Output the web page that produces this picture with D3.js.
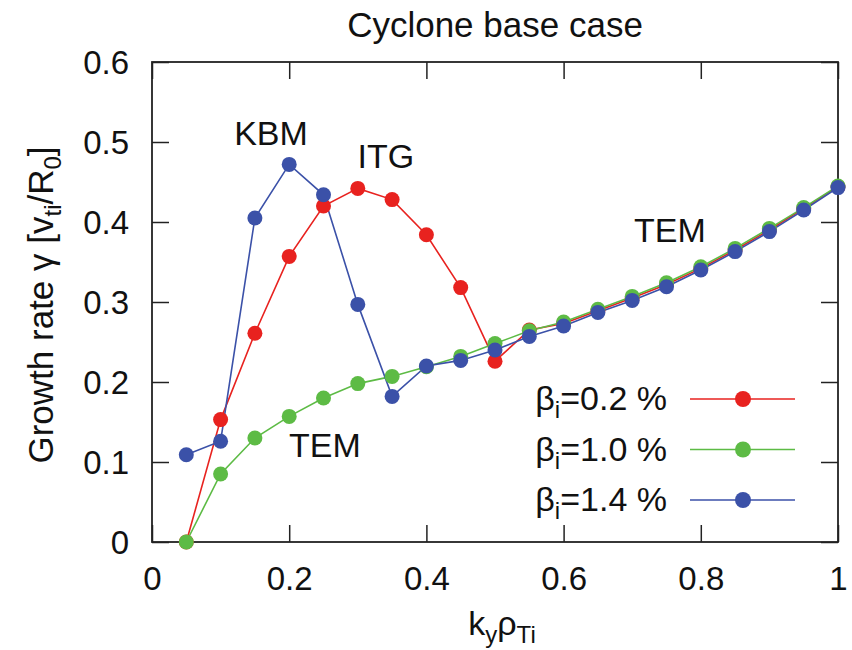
<!DOCTYPE html>
<html lang="en">
<head>
<meta charset="utf-8" />
<script src="https://d3js.org/d3.v7.min.js"></script>
<style>
  body { margin: 0; background: #fff; }
  svg text { font-family: "Liberation Sans", Arial, sans-serif; fill: #111; }
</style>
</head>
<body>
<div id="chart"></div>
<script>
// ky rho_Ti sample points
var kValues = [0.05, 0.1, 0.15, 0.2, 0.25, 0.3, 0.35, 0.4, 0.45, 0.5,
               0.55, 0.6, 0.65, 0.7, 0.75, 0.8, 0.85, 0.9, 0.95, 1.0];

// growth rates
var beta02 = [0.0, 0.153, 0.261, 0.357, 0.420, 0.442, 0.428, 0.384, 0.318, 0.226,
              0.265, 0.273, 0.289, 0.305, 0.322, 0.342, 0.365, 0.390, 0.417, 0.444];
var beta10 = [0.0, 0.085, 0.130, 0.157, 0.180, 0.198, 0.207, 0.219, 0.232, 0.248,
              0.264, 0.275, 0.291, 0.307, 0.324, 0.344, 0.367, 0.392, 0.418, 0.445];
var beta14 = [0.109, 0.126, 0.405, 0.472, 0.434, 0.297, 0.182, 0.220, 0.227, 0.240,
              0.257, 0.270, 0.287, 0.302, 0.319, 0.340, 0.363, 0.388, 0.415, 0.443];

var xTicks = [0, 0.2, 0.4, 0.6, 0.8, 1];
var yTicks = [0, 0.1, 0.2, 0.3, 0.4, 0.5, 0.6];

var series = [
  { label: "0.2 %", values: beta02, color: "#e8221f" },
  { label: "1.0 %", values: beta10, color: "#5dbb45" },
  { label: "1.4 %", values: beta14, color: "#3b51a8" }
];

var W = 852, H = 650;
var margin = { top: 62, right: 14, bottom: 108, left: 152 };
var width = W - margin.left - margin.right,
    height = H - margin.top - margin.bottom;

var svg = d3.select("#chart").append("svg")
  .attr("width", W).attr("height", H);
var g = svg.append("g")
  .attr("transform", "translate(" + margin.left + "," + margin.top + ")");

var x = d3.scaleLinear().domain([0, 1]).range([0, width]);
var y = d3.scaleLinear().domain([0, 0.6]).range([height, 0]);

// inward ticks on all four sides
var tickLen = 17;
function styleTicks(a) {
  a.select(".domain").remove();
  a.selectAll("line").attr("stroke", "#222").attr("stroke-width", 1.5);
}
g.append("g").attr("transform", "translate(0," + height + ")")
  .call(d3.axisBottom(x).tickValues(xTicks).tickSizeInner(-tickLen).tickSizeOuter(0)
    .tickFormat(d3.format("")))
  .call(function (a) {
    styleTicks(a);
    a.selectAll("text").attr("dy", "0").attr("y", 48).style("font-size", "33px");
  });
g.append("g")
  .call(d3.axisTop(x).tickValues(xTicks).tickSizeInner(-tickLen).tickSizeOuter(0))
  .call(function (a) { styleTicks(a); a.selectAll("text").remove(); });
g.append("g")
  .call(d3.axisLeft(y).tickValues(yTicks).tickSizeInner(-tickLen).tickSizeOuter(0)
    .tickFormat(d3.format("")))
  .call(function (a) {
    styleTicks(a);
    a.selectAll("text").attr("x", -23).attr("dy", "0.36em").style("font-size", "33px");
  });
g.append("g").attr("transform", "translate(" + width + ",0)")
  .call(d3.axisRight(y).tickValues(yTicks).tickSizeInner(-tickLen).tickSizeOuter(0))
  .call(function (a) { styleTicks(a); a.selectAll("text").remove(); });

// frame
g.append("rect").attr("width", width).attr("height", height)
  .attr("fill", "none").attr("stroke", "#222").attr("stroke-width", 1.8);

// lines and markers
var line = d3.line()
  .x(function (d, i) { return x(kValues[i]); })
  .y(function (d) { return y(d); });

series.forEach(function (s) {
  g.append("path").datum(s.values)
    .attr("fill", "none").attr("stroke", s.color).attr("stroke-width", 1.6)
    .attr("d", line);
});
series.forEach(function (s) {
  g.append("g").selectAll("circle").data(s.values).enter().append("circle")
    .attr("cx", function (d, i) { return x(kValues[i]); })
    .attr("cy", function (d) { return y(d); })
    .attr("r", 7.5)
    .attr("fill", s.color);
});

// mode labels
var notes = [
  { text: "KBM", k: 0.1735, v: 0.496 },
  { text: "ITG", k: 0.341, v: 0.4675 },
  { text: "TEM", k: 0.252, v: 0.106 },
  { text: "TEM", k: 0.755, v: 0.375 }
];
g.selectAll(".note").data(notes).enter().append("text")
  .attr("class", "note")
  .attr("x", function (d) { return x(d.k); })
  .attr("y", function (d) { return y(d.v); })
  .attr("text-anchor", "middle")
  .style("font-size", "34px")
  .text(function (d) { return d.text; });

// legend
var legend = g.append("g").attr("transform", "translate(538,337)");
series.forEach(function (s, i) {
  var row = legend.append("g").attr("transform", "translate(0," + (i * 50.5) + ")");
  var t = row.append("text").attr("x", -23).attr("y", 11)
    .attr("text-anchor", "end").style("font-size", "34px");
  t.append("tspan").text("β");
  t.append("tspan").attr("dy", 8).style("font-size", "24px").text("i");
  t.append("tspan").attr("dy", -8).text("=" + s.label);
  row.append("line").attr("x1", 0).attr("x2", 105).attr("y1", 0).attr("y2", 0)
    .attr("stroke", s.color).attr("stroke-width", 1.6);
  row.append("circle").attr("cx", 53).attr("cy", 0).attr("r", 8).attr("fill", s.color);
});

// title
svg.append("text").attr("x", 495).attr("y", 37)
  .attr("text-anchor", "middle").style("font-size", "35px").text("Cyclone base case");

// x label
var xl = svg.append("text").attr("x", 502).attr("y", 635)
  .attr("text-anchor", "middle").style("font-size", "34px");
xl.append("tspan").text("k");
xl.append("tspan").attr("dy", 8).style("font-size", "24px").text("y");
xl.append("tspan").attr("dy", -8).text("ρ");
xl.append("tspan").attr("dy", 8).style("font-size", "24px").text("Ti");

// y label
var yl = svg.append("text")
  .attr("transform", "translate(53,305) rotate(-90)")
  .attr("text-anchor", "middle").style("font-size", "35px");
yl.append("tspan").text("Growth rate γ [v");
yl.append("tspan").attr("dy", 8).style("font-size", "24px").text("ti");
yl.append("tspan").attr("dy", -8).text("/R");
yl.append("tspan").attr("dy", 8).style("font-size", "24px").text("0");
yl.append("tspan").attr("dy", -8).text("]");
</script>
</body>
</html>
